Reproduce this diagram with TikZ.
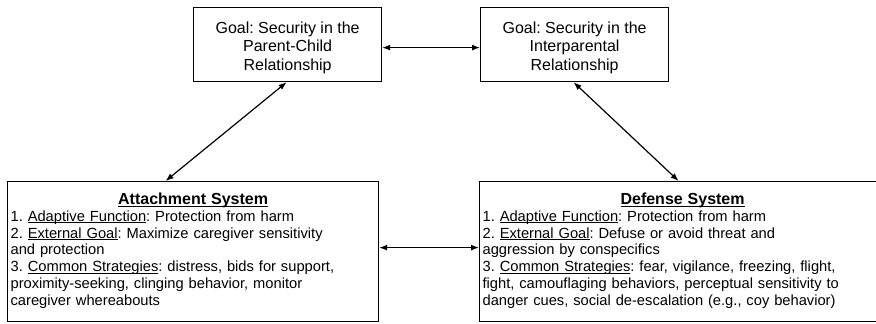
\documentclass[tikz,border=0pt]{standalone}
\usepackage{fontspec}
\setmainfont{Liberation Sans}
\usetikzlibrary{arrows.meta,calc}
% underlined key words: rule placed just below the baseline
\newcommand\ulw[1]{\leavevmode\setbox0\hbox{#1}\rlap{\rule[-2.2pt]{\wd0}{0.9pt}}\box0}
\newcommand\syshead[1]{\makebox[\linewidth][c]{\fontsize{16}{16.9}\selectfont\bfseries\ulw{#1}}}
\begin{document}
\frenchspacing
\begin{tikzpicture}[x=1pt,y=-1pt,
  box/.style={draw, line width=1.2pt, inner sep=0pt, anchor=north west},
  goaltext/.style={align=center, inner sep=0pt, font=\fontsize{16}{18.3}\selectfont},
  systext/.style={anchor=north, text width=#1, align=left, inner sep=0pt,
    font=\fontsize{14.7}{16.9}\selectfont},
  arr/.style={line width=1.2pt, {Latex[length=8pt,width=6pt]}-{Latex[length=8pt,width=6pt]}}]
\useasboundingbox (0,0) rectangle (876,324);

% goal boxes
\node[box, minimum width=188pt, minimum height=74pt] (pc) at (193,7) {};
\node[goaltext] (pctext) at ($(pc.center)+(0,3)$) {Goal: Security in the\\Parent-Child\\Relationship};
\node[box, minimum width=188pt, minimum height=74pt] (ip) at (480,7) {};
\node[goaltext] (iptext) at ($(ip.center)+(0,3)$) {Goal: Security in the\\Interparental\\Relationship};

% system boxes
\node[box, minimum width=371pt, minimum height=140pt] (att) at (7,181) {};
\node[systext=365pt] (atttext) at ($(att.north)+(0,11.5)$) {%
  \syshead{Attachment System}\\
  1. \ulw{Adaptive Function}: Protection from harm\\
  2. \ulw{External Goal}: Maximize caregiver sensitivity\\
  and protection\\
  3. \ulw{Common Strategies}: distress, bids for support,\\
  proximity-seeking, clinging behavior, monitor\\
  caregiver whereabouts};
\node[box, minimum width=406pt, minimum height=140pt] (def) at (479,181) {};
\node[systext=400pt] (deftext) at ($(def.north)+(0,11.5)$) {%
  \syshead{Defense System}\\
  1. \ulw{Adaptive Function}: Protection from harm\\
  2. \ulw{External Goal}: Defuse or avoid threat and\\
  aggression by conspecifics\\
  3. \ulw{Common Strategies}: fear, vigilance, freezing, flight,\\
  fight, camouflaging behaviors, perceptual sensitivity to\\
  danger cues, social de-escalation (e.g., coy behavior)};

% connectors
\draw[arr] ([yshift=-3pt]pc.east) -- ([yshift=-3pt]ip.west);
\draw[arr] ([yshift=4pt]att.east) -- ([yshift=4pt]def.west);
\draw[arr] ([xshift=-1pt]pc.south) -- ([xshift=-27.5pt]att.north);
\draw[arr] ([xshift=-1pt]ip.south) -- ([xshift=-4pt]def.north);
\end{tikzpicture}
\end{document}
